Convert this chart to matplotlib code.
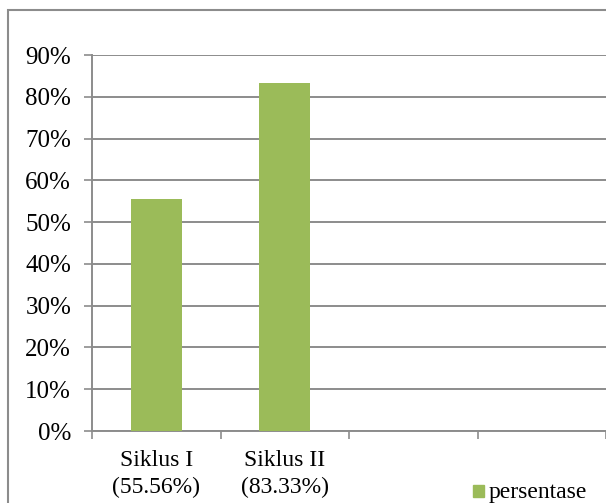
import matplotlib
matplotlib.use("Agg")
import matplotlib.pyplot as plt
from matplotlib.patches import Rectangle
from matplotlib.transforms import blended_transform_factory

categories = ["Siklus I", "Siklus II", "", ""]
value_labels = ["(55.56%)", "(83.33%)", "", ""]
values = [55.56, 83.33]
series_name = "persentase"
y_ticks = [0, 10, 20, 30, 40, 50, 60, 70, 80, 90]

plt.rcParams["font.family"] = ["Liberation Serif", "DejaVu Serif"]
W, H = 606, 503
FS = 17
fig = plt.figure(figsize=(W / 100, H / 100), dpi=100)

# outer chart frame (cropped on right/bottom in reference)
fig.patches.append(Rectangle((8 / W, -0.1), 1.2, 1.1 - 10 / H,
                             transform=fig.transFigure, fill=False,
                             edgecolor="#8c8c8c", linewidth=1.5))

left, right = 92 / W, 1.0
bottom, top = 1 - 431 / H, 1 - 55 / H
ax = fig.add_axes([left, bottom, right - left, top - bottom])

grid_c = "#8c8c8c"
ax.bar(range(len(values)), values, width=0.4, color="#9BBB59", zorder=3)
ax.set_xlim(-0.5, len(categories) - 0.5)
ax.set_ylim(0, 90)
ax.set_yticks(y_ticks)
ax.set_yticklabels([f"{t}%" for t in y_ticks], fontsize=18)
ax.yaxis.grid(True, color=grid_c, linewidth=1.4, zorder=0)

ax.set_xticks([i + 0.5 for i in range(-1, len(categories))])
ax.set_xticklabels([])
ax.tick_params(axis="x", length=6, width=1.2, color=grid_c, direction="out")
ax.tick_params(axis="y", length=6, width=1.2, color=grid_c, direction="out", pad=9)

trans = blended_transform_factory(ax.transData, fig.transFigure)
for i, (lab, vl) in enumerate(zip(categories, value_labels)):
    ax.text(i, 1 - 466 / H, lab, ha="center", va="baseline", fontsize=FS,
            transform=trans, clip_on=False)
    ax.text(i, 1 - 493 / H, vl, ha="center", va="baseline", fontsize=FS,
            transform=trans, clip_on=False)

for s in ["top", "right"]:
    ax.spines[s].set_visible(False)
for s in ["left", "bottom"]:
    ax.spines[s].set_color(grid_c)
    ax.spines[s].set_linewidth(1.4)

# legend
fig.patches.append(Rectangle((473 / W, 1 - 497 / H), 11 / W, 12 / H,
                             transform=fig.transFigure, color="#9BBB59"))
fig.text(489 / W, 1 - 498 / H, series_name, fontsize=FS, va="baseline")

fig.savefig("out.png", dpi=100)
